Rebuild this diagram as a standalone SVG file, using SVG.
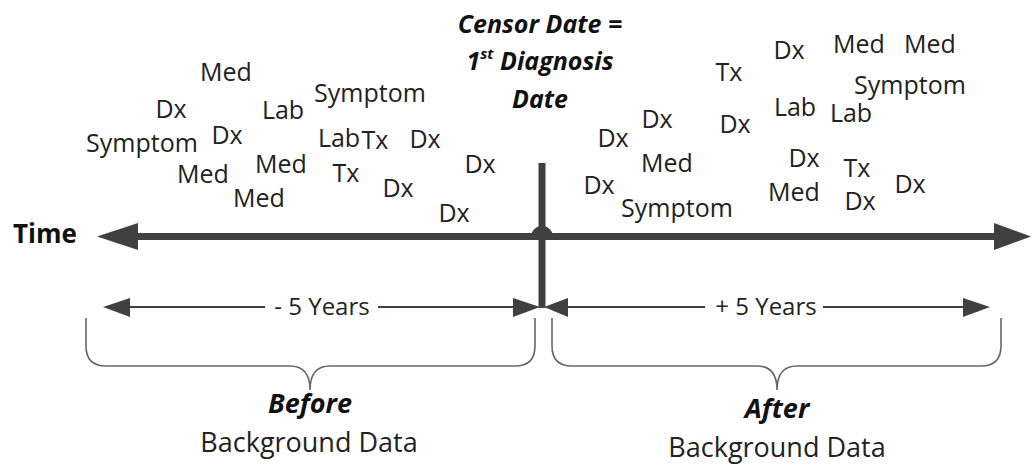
<svg xmlns="http://www.w3.org/2000/svg" width="1031" height="469" viewBox="0 0 1031 469">
<defs>
<style>
.ev{font-family:"Open Sans","Liberation Sans",sans-serif;font-size:25px;fill:#222;text-anchor:middle}
.ttl{font-family:"Open Sans","Liberation Sans",sans-serif;font-size:25px;font-weight:bold;font-style:italic;fill:#111;text-anchor:middle}
.big{font-family:"Open Sans","Liberation Sans",sans-serif;font-size:27px;font-weight:bold;font-style:italic;fill:#111;text-anchor:middle}
.lbl{font-family:"Open Sans","Liberation Sans",sans-serif;font-size:27px;fill:#222;text-anchor:middle}
.dim{font-family:"Open Sans","Liberation Sans",sans-serif;font-size:24px;fill:#222;text-anchor:middle}
.axis{stroke:#404040;stroke-width:7;fill:none}
.dl{stroke:#404040;stroke-width:2;fill:none}
.brace{stroke:#666;stroke-width:1.6;fill:none}
.head{fill:#404040}
</style>
</defs>
<rect width="1031" height="469" fill="#fff"/>
<g id="connectors">
<line class="axis" x1="136" y1="236.5" x2="996" y2="236.5"/>
<polygon class="head" points="97,236.5 138,223 138,250"/>
<polygon class="head" points="1031,236.5 994,223 994,250"/>
<line class="axis" x1="542" y1="163" x2="542" y2="308"/>
<path class="head" d="M531,237 A11,11 0 0 1 553,237 Z"/>
<line class="dl" x1="128" y1="307" x2="265" y2="307"/>
<line class="dl" x1="378" y1="307" x2="515" y2="307"/>
<polygon class="head" points="103,307 130,298 130,317"/>
<polygon class="head" points="540,307 513,298 513,317"/>
<line class="dl" x1="566" y1="307" x2="705" y2="307"/>
<line class="dl" x1="823" y1="307" x2="965" y2="307"/>
<polygon class="head" points="544,307 568,298 568,317"/>
<polygon class="head" points="990,307 963,298 963,317"/>
<path class="brace" d="M86,318 V346 Q86,366 106,366 H290 Q310,366 310,390 Q310,366 330,366 H515 Q535,366 535,346 V318"/>
<path class="brace" d="M552,318 V346 Q552,366 572,366 H757 Q777,366 777,390 Q777,366 797,366 H981 Q1001,366 1001,346 V318"/>
</g>
<g id="title">
<text class="ttl" x="540" y="33">Censor Date =</text>
<text class="ttl" x="540" y="70">1<tspan font-size="15" dy="-11">st</tspan><tspan dy="11"> Diagnosis</tspan></text>
<text class="ttl" x="540" y="108">Date</text>
</g>
<g id="time-label">
<text x="13" y="243" font-family="Open Sans, Liberation Sans, sans-serif" font-size="26" font-weight="bold" fill="#111">Time</text>
</g>
<g id="dim-before"><text class="dim" x="322" y="315">- 5 Years</text></g>
<g id="dim-after"><text class="dim" x="766" y="315">+ 5 Years</text></g>
<g id="before">
<text class="big" x="310" y="413">Before</text>
<text class="lbl" x="309" y="452">Background Data</text>
</g>
<g id="after">
<text class="big" x="777" y="418">After</text>
<text class="lbl" x="777" y="457">Background Data</text>
</g>
<g id="events-before">
<text class="ev" x="226" y="81">Med</text>
<text class="ev" x="171" y="118">Dx</text>
<text class="ev" x="283" y="119">Lab</text>
<text class="ev" x="370" y="102">Symptom</text>
<text class="ev" x="142" y="152">Symptom</text>
<text class="ev" x="227" y="144">Dx</text>
<text class="ev" x="339" y="147">Lab</text>
<text class="ev" x="375" y="149">Tx</text>
<text class="ev" x="425" y="148">Dx</text>
<text class="ev" x="203" y="183">Med</text>
<text class="ev" x="281" y="173">Med</text>
<text class="ev" x="346" y="182">Tx</text>
<text class="ev" x="398" y="197">Dx</text>
<text class="ev" x="259" y="207">Med</text>
<text class="ev" x="480" y="173">Dx</text>
<text class="ev" x="454" y="222">Dx</text>
</g>
<g id="events-after">
<text class="ev" x="789" y="59">Dx</text>
<text class="ev" x="859" y="53">Med</text>
<text class="ev" x="930" y="53">Med</text>
<text class="ev" x="729" y="81">Tx</text>
<text class="ev" x="910" y="94">Symptom</text>
<text class="ev" x="795" y="116">Lab</text>
<text class="ev" x="851" y="122">Lab</text>
<text class="ev" x="657" y="128">Dx</text>
<text class="ev" x="735" y="133">Dx</text>
<text class="ev" x="613" y="147">Dx</text>
<text class="ev" x="667" y="172">Med</text>
<text class="ev" x="804" y="167">Dx</text>
<text class="ev" x="857" y="177">Tx</text>
<text class="ev" x="910" y="193">Dx</text>
<text class="ev" x="794" y="201">Med</text>
<text class="ev" x="860" y="210">Dx</text>
<text class="ev" x="599" y="194">Dx</text>
<text class="ev" x="677" y="217">Symptom</text>
</g>
</svg>
